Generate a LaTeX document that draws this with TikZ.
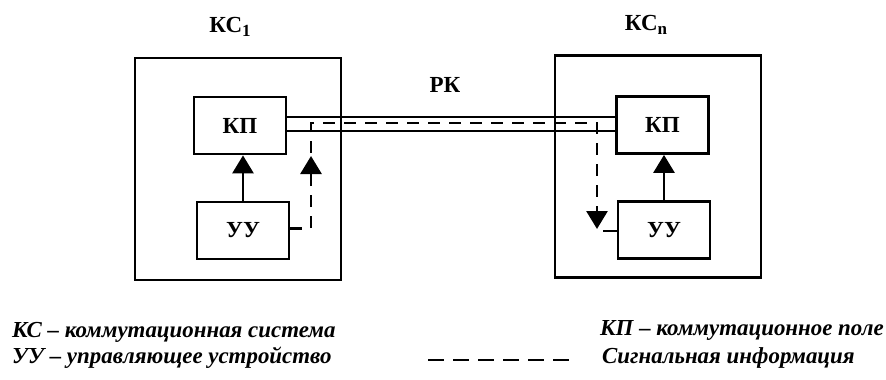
\documentclass[tikz,border=0pt]{standalone}
\usepackage{fontspec}
\setmainfont{Liberation Serif}
\usetikzlibrary{arrows.meta, positioning}
\newcommand{\ksub}[1]{\raisebox{-4.5pt}{\fontsize{17}{17}\selectfont #1}}

\begin{document}
\begin{tikzpicture}[
    x=1pt, y=-1pt,
    system/.style={
        rectangle,
        draw=black, line width=2.8pt,
        minimum width=206pt,
        minimum height=222pt,
        inner sep=0pt
    },
    block/.style={
        rectangle,
        draw=black, line width=2.8pt,
        minimum width=92pt,
        minimum height=57pt,
        font=\fontsize{23}{26}\selectfont\bfseries,
        inner sep=0pt
    },
    title/.style={
        anchor=base,
        font=\fontsize{23}{26}\selectfont\bfseries,
        inner sep=0pt
    },
    legend/.style={
        anchor=base west,
        font=\fontsize{22.9}{26}\selectfont\bfseries\itshape,
        inner sep=0pt
    },
    link/.style={
        line width=2.8pt
    },
    arrow/.style={
        line width=2.8pt, -{Triangle[width=21pt,length=18pt]}
    },
    signal/.style={
        line width=2.8pt, dash pattern=on 12pt off 9pt
    }
]

\useasboundingbox (0,0) rectangle (886,380);

% switching systems
\node (ks1) [system] at (238,169) {};
\node (ksn) [system] at (658,166.5) {};
\node (t1) [title] at (230,32) {КС\ksub{1}};
\node (tn) [title] at (646,30) {КС\ksub{n}};
\node (rk) [title] at (445,92) {РК};

\node (kp1) [block] at (240,125.5) {КП};
\node (uu1) [block, below=45.2pt of kp1, xshift=3pt] {УУ};
\node (kpn) [block] at (662.5,125) {КП};
\node (uun) [block, below=45.2pt of kpn, xshift=1.5pt] {УУ};

\draw [arrow] (uu1.north) -- (uu1.north |- kp1.south);
\draw [arrow] (uun.north) -- (uun.north |- kpn.south);

% channel
\draw [link] ([yshift=8.5pt]kp1.east) -- ([yshift=8.5pt]kp1.east -| kpn.west);
\draw [link] ([yshift=-5.5pt]kp1.east) -- ([yshift=-5.5pt]kp1.east -| kpn.west);

% signalling
\coordinate (up1) at (311,156);
\coordinate (s1) at (311,153);
\coordinate (top1) at (311,123);
\coordinate (topn) at (597,123);
\coordinate (dnn) at (597,229);
\coordinate (stubn) at (603,231);
\draw [signal, -{Triangle[width=21pt,length=18pt]}] ([yshift=2pt]uu1.east) -| (up1);
\draw [signal, -{Triangle[width=21pt,length=18pt]}] (s1) -- (top1) -- (topn) -- (dnn);
\draw [link] (stubn) -- (stubn -| uun.west);

% legend
\node (lks) [legend] at (12,337) {КС – коммутационная система};
\node (luu) [legend] at (12,363) {УУ – управляющее устройство};
\node (lkp) [legend] at (600,335) {КП – коммутационное поле};
\node (lsig) [legend] at (602,363) {Сигнальная информация};
\coordinate (ls1) at (428,360);
\coordinate (ls2) at (570,360);
\draw [signal, dash pattern=on 16pt off 9pt] (ls1) -- (ls2);

\end{tikzpicture}
\end{document}
